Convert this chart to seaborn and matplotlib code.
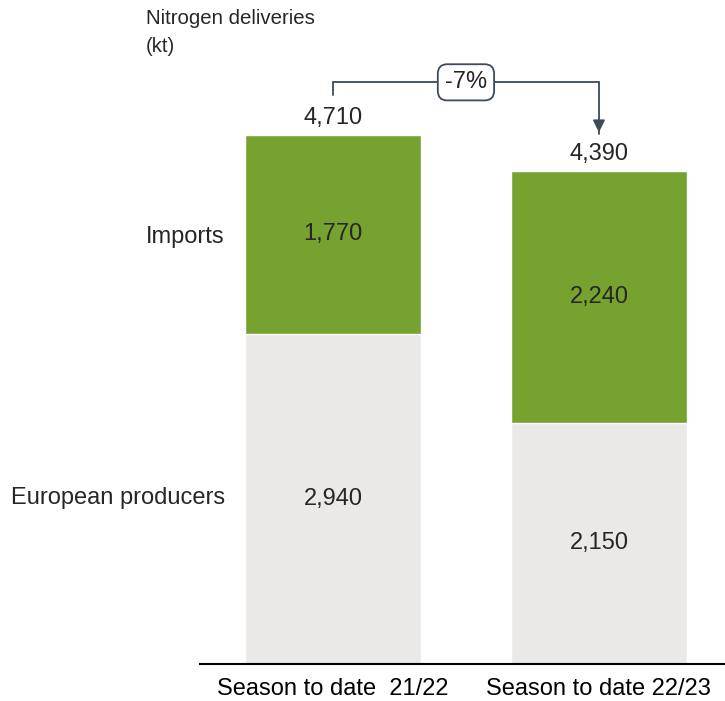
import matplotlib.pyplot as plt
import seaborn as sns

seasons = ["Season to date  21/22", "Season to date 22/23"]
european = [2940, 2150]
imports = [1770, 2240]
totals = [4710, 4390]
change_label = "-7%"

green = "#76a22f"
grey = "#ebe9e7"
dark = "#3d4a5a"

sns.set_style("white")
plt.rcParams['font.family'] = ['Liberation Sans', 'DejaVu Sans']

fig = plt.figure(figsize=(7.25, 7.01), dpi=100)
ax = fig.add_axes([200 / 725, 37 / 701, 525 / 725, 664 / 701])

sns.barplot(x=seasons, y=totals, color=green, saturation=1, width=0.66, ax=ax)
sns.barplot(x=seasons, y=european, color=grey, saturation=1, width=0.66, ax=ax)

fs = 17
ax.set_xlim(-0.5, 1.474)
ax.set_ylim(0, 5913)
ax.set_yticks([])
ax.set_ylabel("")
for s in ["top", "right", "left"]:
    ax.spines[s].set_visible(False)
ax.spines["bottom"].set_color("black")
ax.spines["bottom"].set_linewidth(1.5)
ax.tick_params(axis="x", length=0, pad=10, labelsize=fs, colors="black")

for i in range(len(seasons)):
    ax.text(i, european[i] / 2, f"{european[i]:,}", ha="center", va="center", fontsize=fs)
    ax.text(i, european[i] + imports[i] / 2, f"{imports[i]:,}", ha="center", va="center", fontsize=fs)
    ax.text(i, totals[i] + 150, f"{totals[i]:,}", ha="center", va="center", fontsize=fs)

# segment names to the left of the first bar
ax.text(-0.406, european[0] + imports[0] / 2 - 20, "Imports", ha="right", va="center",
        fontsize=fs, clip_on=False)
ax.text(-0.406, european[0] / 2 + 10, "European producers", ha="right", va="center",
        fontsize=fs, clip_on=False)

# change bracket
top = max(totals) + 470
ax.plot([0, 0, 1, 1], [max(totals) + 355, top, top, totals[1] + 330],
        color=dark, lw=1.3, solid_joinstyle="miter")
ax.annotate("", xy=(1, totals[1] + 320), xytext=(1, totals[1] + 420),
            arrowprops=dict(arrowstyle="-|>", color=dark, lw=1.3, mutation_scale=18))
ax.text(0.5, top, change_label, ha="center", va="center", fontsize=fs,
        bbox=dict(boxstyle="round,pad=0.3,rounding_size=0.4", fc="white", ec=dark, lw=1.3))

fig.text(146 / 725, 1 - 9 / 701, "Nitrogen deliveries\n(kt)", ha="left", va="top",
         fontsize=14.7, linespacing=1.6)

plt.savefig("out.png", dpi=100)
